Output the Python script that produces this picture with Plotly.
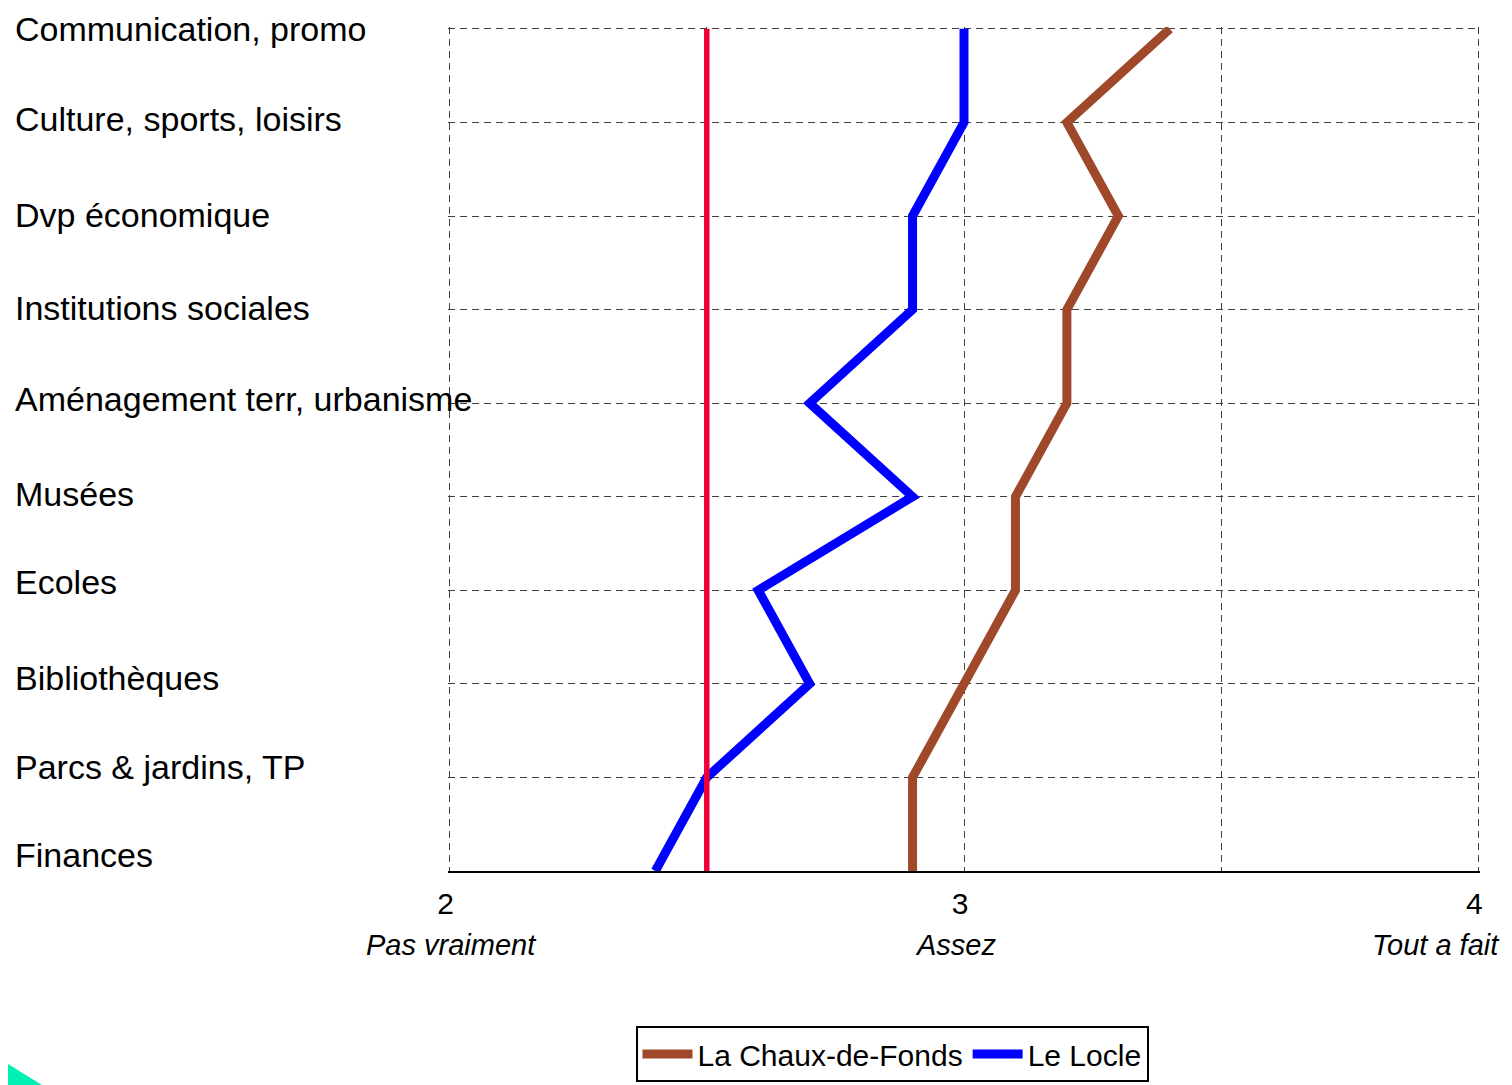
import plotly.graph_objects as go

# ---- data ----
categories = [
    "Finances",
    "Parcs & jardins, TP",
    "Bibliothèques",
    "Ecoles",
    "Musées",
    "Aménagement terr, urbanisme",
    "Institutions sociales",
    "Dvp économique",
    "Culture, sports, loisirs",
    "Communication, promo",
]
chaux_de_fonds = [2.9, 2.9, 3.0, 3.1, 3.1, 3.2, 3.2, 3.3, 3.2, 3.4]
le_locle = [2.4, 2.5, 2.7, 2.6, 2.9, 2.7, 2.9, 2.9, 3.0, 3.0]
reference_value = 2.5
series_names = ["La Chaux-de-Fonds", "Le Locle"]
x_tick_values = [2, 2.5, 3, 3.5, 4]
x_tick_text = ["2", "", "3", "", "4"]
scale_positions = [2, 3, 4]
scale_labels = ["Pas vraiment", "Assez", "Tout a fait"]

# ---- style / geometry ----
FONT = "Liberation Sans, Arial, sans-serif"
BROWN = "#A0492A"
BLUE = "#0000FF"
RED = "#F0003A"
OFF = 8  # page body margin
W, H = 1512 - OFF, 1085 - OFF
ML, MT = 440, 19
plot_w, plot_h = 1032, 844
MR = W - ML - plot_w
MB = H - MT - plot_h


def px(xp):  # page pixel -> paper x
    return (xp - OFF - ML) / plot_w


def py(yp):  # page pixel -> paper y
    return (MT + plot_h - (yp - OFF)) / plot_h


fig = go.Figure()
fig.add_trace(go.Scatter(x=chaux_de_fonds, y=categories, mode="lines", name=series_names[0],
                         line=dict(color=BROWN, width=9), hoverinfo="skip"))
fig.add_trace(go.Scatter(x=le_locle, y=categories, mode="lines", name=series_names[1],
                         line=dict(color=BLUE, width=9), hoverinfo="skip"))
fig.add_trace(go.Scatter(x=[reference_value, reference_value], y=[categories[0], categories[-1]],
                         mode="lines", showlegend=False,
                         line=dict(color=RED, width=5.5), hoverinfo="skip"))

# category labels, left-aligned
label_nudge = [16, 10, 6, 8, 3, 4, 2, 1, 3, 0]
annotations = []
for cat, nudge in zip(categories, label_nudge):
    annotations.append(dict(text=cat, x=px(13), xref="paper", xanchor="left",
                            y=cat, yref="y", yanchor="middle", yshift=nudge,
                            showarrow=False, font=dict(family=FONT, size=34, color="black")))

# scale descriptions under the numbers
scale_style = [dict(xanchor="center", xshift=2), dict(xanchor="center", xshift=-9),
               dict(xanchor="right", xshift=24)]
for pos, lab, st in zip(scale_positions, scale_labels, scale_style):
    annotations.append(dict(text="<i>" + lab + "</i>", x=pos, xref="x", y=0, yref="paper",
                            yanchor="middle", yshift=-74, showarrow=False,
                            font=dict(family=FONT, size=29, color="black"), **st))

# decorative corner triangle
tri = (f"M {px(0)} {py(1059)} L {px(58)} {py(1095)} L {px(-5)} {py(1095)} L {px(-5)} {py(1059)} Z")
shapes = [dict(type="path", path=tri, xref="paper", yref="paper",
               fillcolor="#00F0B4", line=dict(width=0), layer="above")]

fig.update_layout(
    width=W, height=H,
    margin=dict(l=ML, r=MR, t=MT, b=MB, pad=0, autoexpand=False),
    paper_bgcolor="white", plot_bgcolor="white",
    font=dict(family=FONT, color="black"),
    hovermode=False,
    annotations=annotations,
    shapes=shapes,
    xaxis=dict(range=[1.997, 4.003], tickvals=x_tick_values, ticktext=x_tick_text,
               showgrid=True, gridcolor="#404040", gridwidth=1, griddash="7px,5px",
               zeroline=False, showline=True, linecolor="black", linewidth=2,
               ticks="", tickfont=dict(family=FONT, size=30, color="black"),
               ticklabelstandoff=5, ticklabelshift=-4, fixedrange=True, automargin=False),
    yaxis=dict(type="category", categoryorder="array", categoryarray=categories,
               range=[0, len(categories) - 1 + 0.02],
               showgrid=True, gridcolor="#404040", gridwidth=1, griddash="7px,5px",
               zeroline=False, showline=False, showticklabels=False, ticks="",
               fixedrange=True, automargin=False),
    legend=dict(orientation="h", x=px(892), y=py(1026),
                xanchor="center", yanchor="top", bordercolor="black", borderwidth=2,
                bgcolor="white", font=dict(family=FONT, size=30, color="black"),
                itemwidth=50, tracegroupgap=0),
)

fig.write_html("out.html", config={"displayModeBar": False})
